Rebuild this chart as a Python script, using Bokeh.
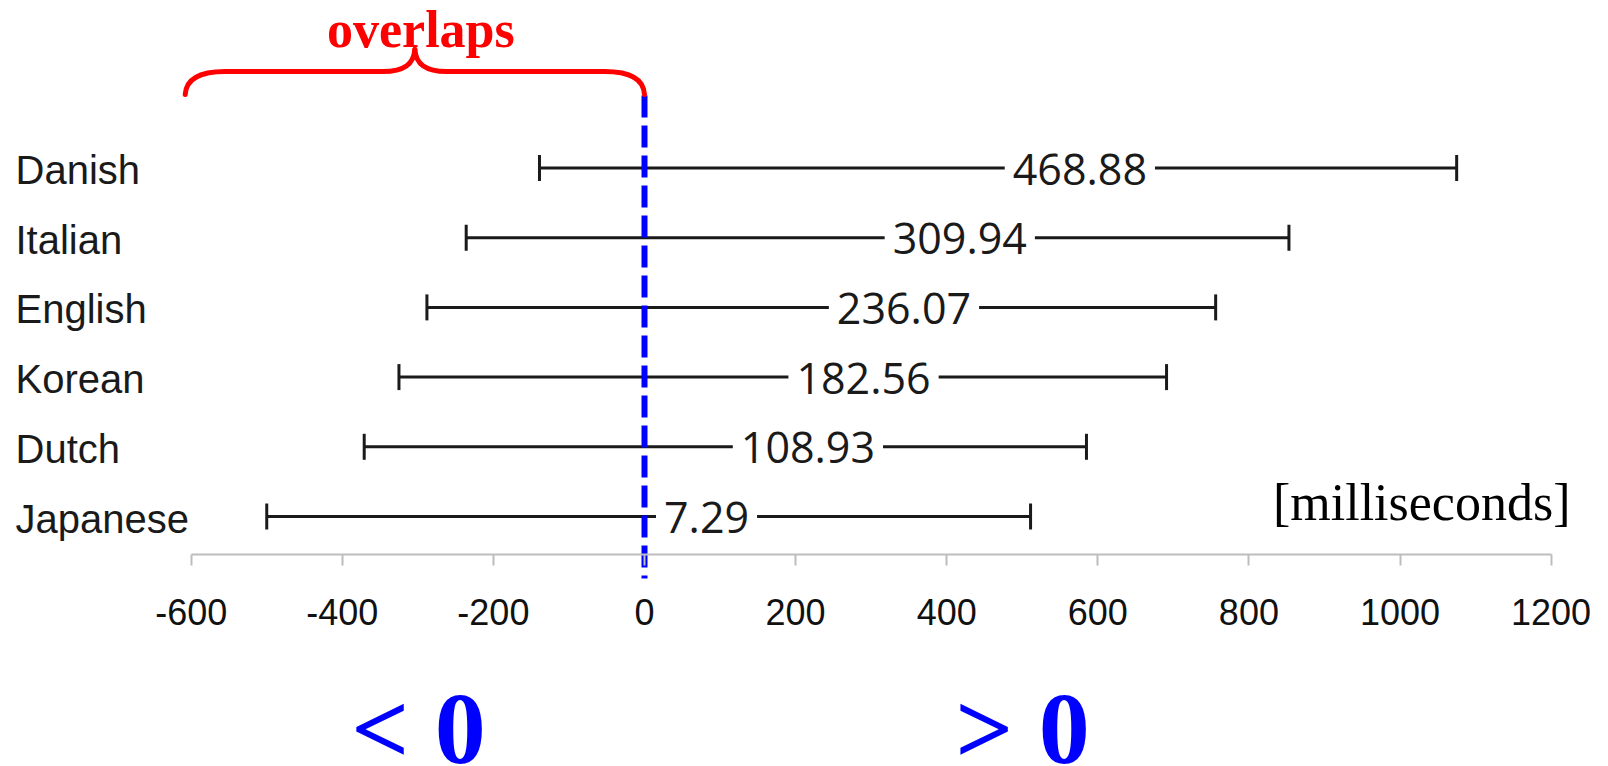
from bokeh.plotting import figure
from bokeh.models import Range1d, ColumnDataSource, Whisker, TeeHead, FixedTicker
from bokeh.core.properties import value
from bokeh.embed import file_html
from bokeh.resources import INLINE

# ---------------- data ----------------
languages = ["Japanese", "Dutch", "Korean", "English", "Italian", "Danish"]
mean_ms = [7.29, 108.93, 182.56, 236.07, 309.94, 468.88]
mean_labels = ["7.29", "108.93", "182.56", "236.07", "309.94", "468.88"]
ci_lower = [-500, -371, -325, -288, -236, -139]
ci_upper = [511, 585, 691, 756, 853, 1075]
tick_values = [-600, -400, -200, 0, 200, 400, 600, 800, 1000, 1200]
tick_labels = ["-600", "-400", "-200", "0", "200", "400", "600", "800", "1000", "1200"]
unit_text = "[milliseconds]"
brace_text = "overlaps"
brace_span = [-600, 0]
side_texts = ["< 0", "> 0"]
zero_line = 0

# ---------------- layout calibration (page pixels) ----------------
W, H = 1608, 766
X_LO, X_HI = 190.7, 1550.6      # page x of first / last tick
ROW_TOP, ROW_BOT = 167.5, 516.0  # page y of top / bottom row
AXIS_Y = 554.0
FRAME_TOP, FRAME_BOT = 0.0, float(H)
FRAME_LEFT, FRAME_RIGHT = 0.0, float(W)

t0, t1 = tick_values[0], tick_values[-1]
sx = (X_HI - X_LO) / (t1 - t0)
x_start = t0 - (X_LO - FRAME_LEFT) / sx
x_end = t1 + (FRAME_RIGHT - X_HI) / sx
n = len(languages)
sy = (ROW_BOT - ROW_TOP) / (n - 1)
y_start = -(FRAME_BOT - ROW_BOT) / sy
y_end = (n - 1) + (ROW_TOP - FRAME_TOP) / sy


def dx(px):
    return x_start + (px - FRAME_LEFT) / sx


def dy(py):
    return y_start + (FRAME_BOT - py) / sy


p = figure(width=W, height=H, output_backend="svg", toolbar_location=None,
           x_range=Range1d(x_start, x_end), y_range=Range1d(y_start, y_end),
           y_axis_location=None, min_border_left=0, min_border_right=0,
           min_border_top=0, min_border_bottom=0)
p.outline_line_color = None
p.xgrid.visible = False
p.ygrid.visible = False
p.background_fill_color = "white"
p.border_fill_color = "white"

ax = p.xaxis[0]
ax.fixed_location = dy(AXIS_Y)
ax.ticker = FixedTicker(ticks=tick_values)
ax.major_label_overrides = {v: s for v, s in zip(tick_values, tick_labels)}
ax.bounds = (t0, t1)
ax.axis_line_color = "#bdbdbd"
ax.axis_line_width = 2
ax.major_tick_line_color = "#bdbdbd"
ax.major_tick_line_width = 2
ax.major_tick_out = 11
ax.major_tick_in = 0
ax.minor_tick_line_color = None
ax.major_label_text_font = "Liberation Sans"
ax.major_label_text_font_size = "36px"
ax.major_label_text_color = "#111111"
ax.major_label_standoff = 33

rows = list(range(n))
src = ColumnDataSource(dict(y=rows, lower=ci_lower, upper=ci_upper,
                            mean=mean_ms, label=mean_labels, lang=languages))

# blue dashed zero line
p.segment(x0=[zero_line], y0=[dy(95)], x1=[zero_line], y1=[dy(578)],
          line_color="#0000ff", line_width=6, line_dash="22 8")

# error bars
wh = Whisker(source=src, base="y", lower="lower", upper="upper", dimension="width",
             line_color="#1a1a1a", line_width=3,
             lower_head=TeeHead(size=26, line_color="#1a1a1a", line_width=3),
             upper_head=TeeHead(size=26, line_color="#1a1a1a", line_width=3))
p.add_layout(wh)

# mean value labels with white background
p.text(x="mean", y="y", text="label", source=src, text_align="left",
       text_baseline="middle", text_font=value("Open Sans"), text_font_size="43px",
       text_color="#1a1a1a", x_offset=6, y_offset=1,
       background_fill_color="white", padding=8)

# category labels
p.text(x=[dx(15)] * n, y=rows, text=languages, text_align="left",
       text_baseline="middle", text_font=value("Liberation Sans"),
       text_font_size="40px", text_color="#1a1a1a", y_offset=2)

# unit label
p.text(x=[dx(1570)], y=[dy(502)], text=[unit_text], text_align="right",
       text_baseline="alphabetic", text_font=value("Liberation Serif"),
       text_font_size="52px", text_color="black")

# brace
bx0, bx1 = brace_span
L, R = X_LO + (bx0 - t0) * sx - 6, X_LO + (bx1 - t0) * sx
M = (L + R) / 2
yb, yh, yc = 94, 71, 49
bz = dict(
    x0=[dx(L), dx(M - 32), dx(M), dx(R - 40)],
    y0=[dy(yb), dy(yh), dy(yc), dy(yh)],
    x1=[dx(L + 40), dx(M), dx(M + 32), dx(R)],
    y1=[dy(yh), dy(yc), dy(yh), dy(yb)],
    cx0=[dx(L + 1), dx(M - 10), dx(M + 1), dx(R - 18)],
    cy0=[dy(yh + 6), dy(yh), dy(yh - 8), dy(yh)],
    cx1=[dx(L + 18), dx(M - 1), dx(M + 10), dx(R - 1)],
    cy1=[dy(yh), dy(yh - 8), dy(yh), dy(yh + 6)],
)
p.bezier(**bz, line_color="#ff0000", line_width=5, line_cap="round")
p.segment(x0=[dx(L + 40), dx(M + 32)], y0=[dy(yh)] * 2,
          x1=[dx(M - 32), dx(R - 40)], y1=[dy(yh)] * 2,
          line_color="#ff0000", line_width=5, line_cap="round")
p.text(x=[dx(M + 6)], y=[dy(28.5)], text=[brace_text], text_align="center",
       text_baseline="alphabetic", text_font=value("Liberation Serif"),
       text_font_style="bold", text_font_size="52px", text_color="#ff0000")

# side labels below the axis (font size avoids "N00px", which the SVG font parser misreads)
p.text(x=[dx(418), dx(1022)], y=[dy(728)] * 2, text=side_texts, text_align="center",
       text_baseline="alphabetic", text_font=value("Liberation Serif"),
       text_font_style="bold", text_font_size="102px", text_color="#0000ff",
       level="overlay")

open("out.html", "w").write(file_html(p, INLINE))
